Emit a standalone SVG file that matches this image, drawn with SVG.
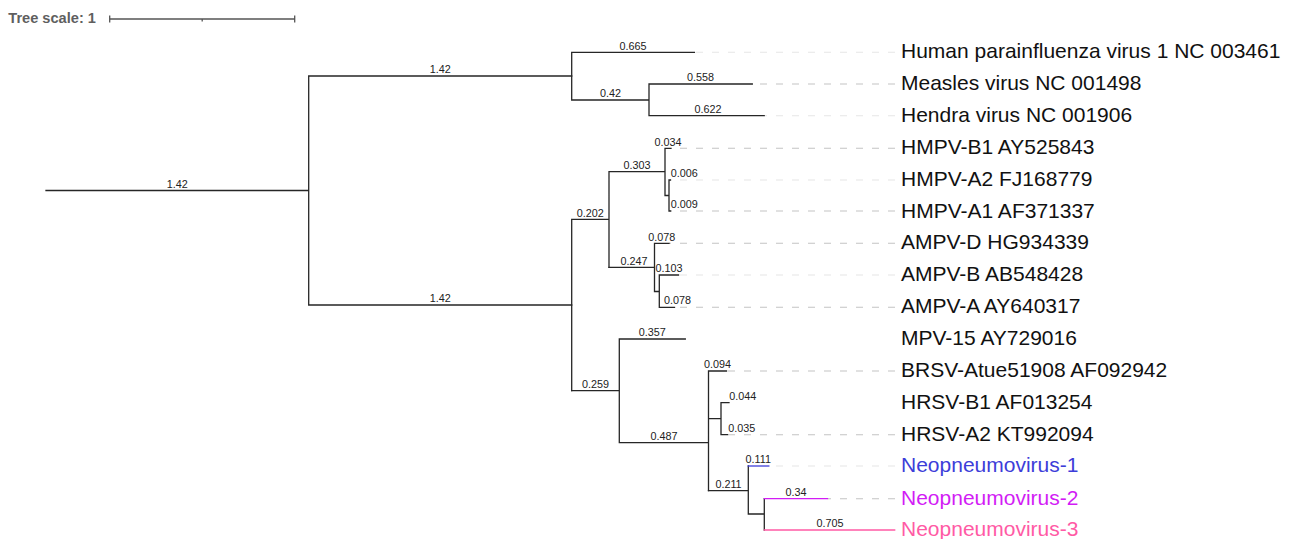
<svg xmlns="http://www.w3.org/2000/svg" width="1294" height="539" viewBox="0 0 1294 539">
<style>
.br{fill:none;stroke:#262626;stroke-width:1.3;stroke-linecap:square}
.gd{fill:none;stroke:#c4c4c4;stroke-width:1.1;stroke-dasharray:7 9}
.gf{fill:none;stroke:#e6e6e6;stroke-width:1.1;stroke-dasharray:7 9}
.bl{font-family:"Liberation Sans",Arial,sans-serif;font-size:10.8px;fill:#222;text-anchor:middle}
.bls{font-family:"Liberation Sans",Arial,sans-serif;font-size:10.8px;fill:#222}
.lf{font-family:"Liberation Sans",Arial,sans-serif;font-size:21px;fill:#111}
.sc{fill:none;stroke:#555;stroke-width:1.3}
</style>
<rect width="1294" height="539" fill="#fff"/>
<g id="tree-scale">
<text x="8.3" y="23.3" font-family="Liberation Sans, Arial, sans-serif" font-size="14.6" font-weight="bold" fill="#5f5f5f">Tree scale: 1</text>
<path class="sc" d="M109.7 19H294.7M109.7 15.5V22.5M294.7 15.5V22.5M202.2 19V21.5"/>
</g>
<g id="guides">
<path class="gf" d="M895 52.3H694.4"/>
<path class="gd" d="M895 84H752.3"/>
<path class="gf" d="M895 115.7H764.2"/>
<path class="gd" d="M895 148.3H671"/>
<path class="gf" d="M895 180H670.5"/>
<path class="gd" d="M895 211H670.7"/>
<path class="gd" d="M895 243.3H669"/>
<path class="gf" d="M895 275H678.5"/>
<path class="gd" d="M895 307.3H674.5"/>
<path class="gd" d="M895 371H726.5"/>
<path class="gd" d="M895 434.7H727.5"/>
<path class="gf" d="M895 466H768.8"/>
<path class="gd" d="M895 498.7H827.5"/>
</g>
<g id="connectors">
<path class="br" d="M46 190.5H308.7M308.7 76V305M308.7 76H571.7M308.7 305H571.7"/>
<path class="br" d="M571.7 52.3V100M571.7 52.3H694.4M571.7 100H649M649 84V115.7M649 84H752.3M649 115.7H764.2"/>
<path class="br" d="M571.7 219.3V390.7M571.7 219.3H609M609 171.7V267.3M609 171.7H665M665 148.3V195.5M665 148.3H671M665 195.5H669M669 180V211M669 180H670.5M669 211H670.7"/>
<path class="br" d="M609 267.3H654.5M654.5 243.3V291.5M654.5 243.3H669M654.5 291.5H659.3M659.3 275V307.3M659.3 275H678.5M659.3 307.3H674.5"/>
<path class="br" d="M571.7 390.7H619.3M619.3 339V442.7M619.3 339H685.3M619.3 442.7H708.5M708.5 371V490.7M708.5 371H726.5M708.5 418.7H721M721 402.7V434.7M721 402.7H729M721 434.7H727.5"/>
<path class="br" d="M708.5 490.7H748.3M748.3 466V514M748.3 514H764.3M764.3 498.7V530"/>
<path class="br" style="stroke:#3d3dd9" d="M748.3 466H768.8"/>
<path class="br" style="stroke:#d21cf5" d="M764.3 498.7H827.5"/>
<path class="br" style="stroke:#ff5aa5" d="M764.3 530H894.7"/>
</g>
<g id="branch-lengths">
<text class="bl" x="177.3" y="187.7">1.42</text>
<text class="bl" x="440.2" y="73.2">1.42</text>
<text class="bl" x="440.2" y="302.2">1.42</text>
<text class="bl" x="633" y="49.5">0.665</text>
<text class="bl" x="610.4" y="97.2">0.42</text>
<text class="bl" x="700.6" y="81.2">0.558</text>
<text class="bl" x="708" y="112.9">0.622</text>
<text class="bl" x="590.3" y="216.5">0.202</text>
<text class="bl" x="637" y="168.9">0.303</text>
<text class="bl" x="668" y="145.5">0.034</text>
<text class="bls" x="670.7" y="177">0.006</text>
<text class="bls" x="670.7" y="208.3">0.009</text>
<text class="bl" x="634" y="264.5">0.247</text>
<text class="bl" x="661.7" y="240.5">0.078</text>
<text class="bl" x="669" y="272.2">0.103</text>
<text class="bls" x="664" y="304.4">0.078</text>
<text class="bl" x="595.4" y="388">0.259</text>
<text class="bl" x="652.3" y="336.2">0.357</text>
<text class="bl" x="664" y="439.9">0.487</text>
<text class="bl" x="717.5" y="368.2">0.094</text>
<text class="bls" x="729.3" y="399.7">0.044</text>
<text class="bls" x="728.3" y="431.8">0.035</text>
<text class="bl" x="728.5" y="487.9">0.211</text>
<text class="bl" x="758.3" y="463.2">0.111</text>
<text class="bl" x="796" y="495.9">0.34</text>
<text class="bl" x="830" y="527.2">0.705</text>
</g>
<g id="leaf-hpiv1"><text class="lf" x="901" y="58.3">Human parainfluenza virus 1 NC 003461</text></g>
<g id="leaf-measles"><text class="lf" x="901" y="90.2">Measles virus NC 001498</text></g>
<g id="leaf-hendra"><text class="lf" x="901" y="122">Hendra virus NC 001906</text></g>
<g id="leaf-hmpv-b1"><text class="lf" x="901" y="154.3">HMPV-B1 AY525843</text></g>
<g id="leaf-hmpv-a2"><text class="lf" x="901" y="186.2">HMPV-A2 FJ168779</text></g>
<g id="leaf-hmpv-a1"><text class="lf" x="901" y="217.6">HMPV-A1 AF371337</text></g>
<g id="leaf-ampv-d"><text class="lf" x="901" y="249.4">AMPV-D HG934339</text></g>
<g id="leaf-ampv-b"><text class="lf" x="901" y="281.3">AMPV-B AB548428</text></g>
<g id="leaf-ampv-a"><text class="lf" x="901" y="313.3">AMPV-A AY640317</text></g>
<g id="leaf-mpv15"><text class="lf" x="901" y="345.2">MPV-15 AY729016</text></g>
<g id="leaf-brsv"><text class="lf" x="901" y="377.2">BRSV-Atue51908 AF092942</text></g>
<g id="leaf-hrsv-b1"><text class="lf" x="901" y="409">HRSV-B1 AF013254</text></g>
<g id="leaf-hrsv-a2"><text class="lf" x="901" y="441">HRSV-A2 KT992094</text></g>
<g id="leaf-neo1"><text class="lf" x="901" y="472.3" style="fill:#3d3dd9">Neopneumovirus-1</text></g>
<g id="leaf-neo2"><text class="lf" x="901" y="504.6" style="fill:#d21cf5">Neopneumovirus-2</text></g>
<g id="leaf-neo3"><text class="lf" x="901" y="536.4" style="fill:#ff5aa5">Neopneumovirus-3</text></g>
</svg>
